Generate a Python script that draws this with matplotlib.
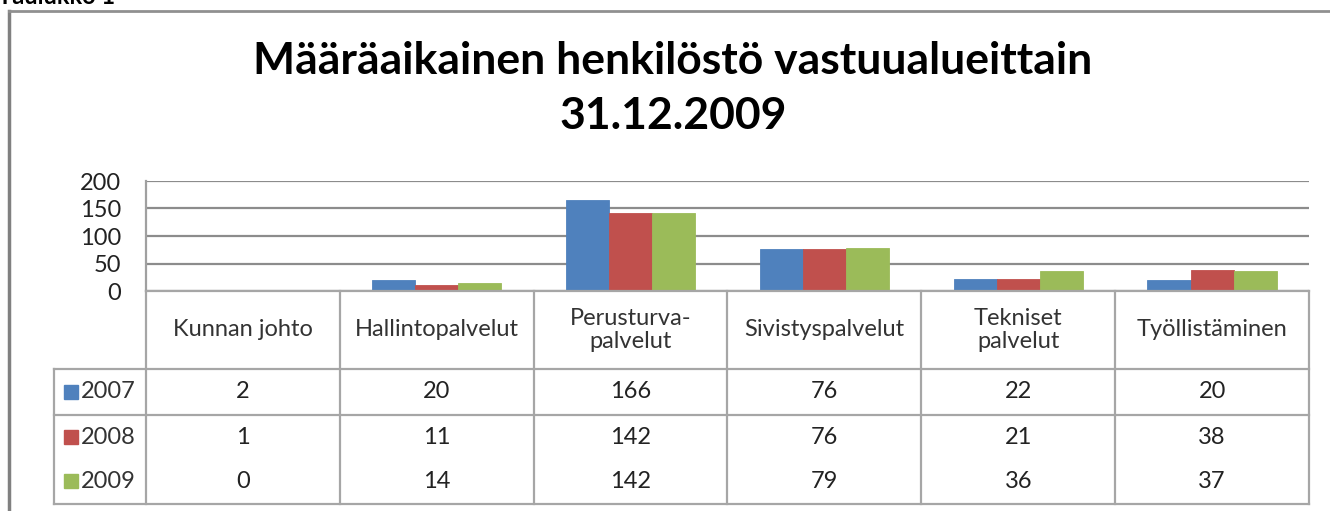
import matplotlib.pyplot as plt
from matplotlib.lines import Line2D
from matplotlib.transforms import blended_transform_factory

categories = ['Kunnan johto', 'Hallintopalvelut', 'Perusturva-\npalvelut',
              'Sivistyspalvelut', 'Tekniset\npalvelut', 'Työllistäminen']
years = ['2007', '2008', '2009']
v2007 = [2, 20, 166, 76, 22, 20]
v2008 = [1, 11, 142, 76, 21, 38]
v2009 = [0, 14, 142, 79, 36, 37]
series = [v2007, v2008, v2009]
colors = ['#4F81BD', '#C0504D', '#9BBB59']
yticks = [0, 50, 100, 150, 200]

W, H = 1330, 511
plt.rcParams['font.family'] = ['Lato', 'DejaVu Sans']


def fx(x):
    return x / W


def fy(y):
    return 1 - y / H


fig = plt.figure(figsize=(W / 100, H / 100), dpi=100)
ax = fig.add_axes([fx(146), fy(291), fx(1309) - fx(146), fy(181) - fy(291)])

n = len(series)
bw = 1 / (n + 1.5)
for i, (vals, c) in enumerate(zip(series, colors)):
    xs = [k + (i - 1) * bw for k in range(len(categories))]
    ax.bar(xs, vals, width=bw, color=c, edgecolor=c, linewidth=0.6, zorder=3)

ax.set_xlim(-0.5, len(categories) - 0.5)
ax.set_ylim(0, 200)
ax.set_yticks(yticks)
ax.set_yticklabels([str(t) for t in yticks], fontsize=17, color='#222222')
ax.tick_params(axis='y', length=0, pad=18)
ax.set_xticks([])
ax.grid(axis='y', color='#8c8c8c', linewidth=1.6, zorder=0)
for s in ['top', 'right', 'bottom']:
    ax.spines[s].set_visible(False)
ax.spines['left'].set_color('#a0a0a0')
ax.spines['left'].set_linewidth(1.6)

# data table under the plot
grey = '#a6a6a6'
tr = blended_transform_factory(ax.transData, fig.transFigure)
for yy in [291, 369, 415, 504]:
    x0 = 146 if yy == 291 else 54
    fig.add_artist(Line2D([fx(x0), fx(1309)], [fy(yy), fy(yy)],
                          color=grey, linewidth=1.6))
fig.add_artist(Line2D([fx(54), fx(54)], [fy(369), fy(504)],
                      color=grey, linewidth=1.6))
for k in range(len(categories) + 1):
    ax.plot([k - 0.5, k - 0.5], [fy(291), fy(504)], color=grey,
            linewidth=1.6, transform=tr, clip_on=False)

for k, cat in enumerate(categories):
    ax.text(k, fy(330), cat, transform=tr, ha='center', va='center',
            fontsize=17, color='#333333', linespacing=1.15)

row_y = [392, 437, 481]
for r, (yr, vals, c) in enumerate(zip(years, series, colors)):
    fig.patches.append(plt.Rectangle((fx(64), fy(row_y[r]) - 7 / H), 14 / W, 14 / H,
                                     color=c, transform=fig.transFigure, figure=fig))
    fig.text(fx(81), fy(row_y[r]), yr, ha='left', va='center',
             fontsize=17, color='#333333')
    for k, v in enumerate(vals):
        ax.text(k, fy(row_y[r]), str(v), transform=tr, ha='center',
                va='center', fontsize=17, color='#222222')

# title
fig.text(fx(673), fy(61), 'Määräaikainen henkilöstö vastuualueittain',
         ha='center', va='center', fontsize=32, fontweight='bold')
fig.text(fx(673), fy(116), '31.12.2009', ha='center', va='center',
         fontsize=32, fontweight='bold')

# outer chart frame and clipped caption
fig.add_artist(Line2D([fx(9), fx(9)], [fy(11), 0], color='#808080', linewidth=2.5))
fig.add_artist(Line2D([fx(9), 1], [fy(11), fy(11)], color='#909090', linewidth=2))
fig.text(fx(-2), fy(4), 'Taulukko 1', ha='left', va='baseline',
         fontsize=17, fontweight='bold')

fig.savefig('out.png', dpi=100)
